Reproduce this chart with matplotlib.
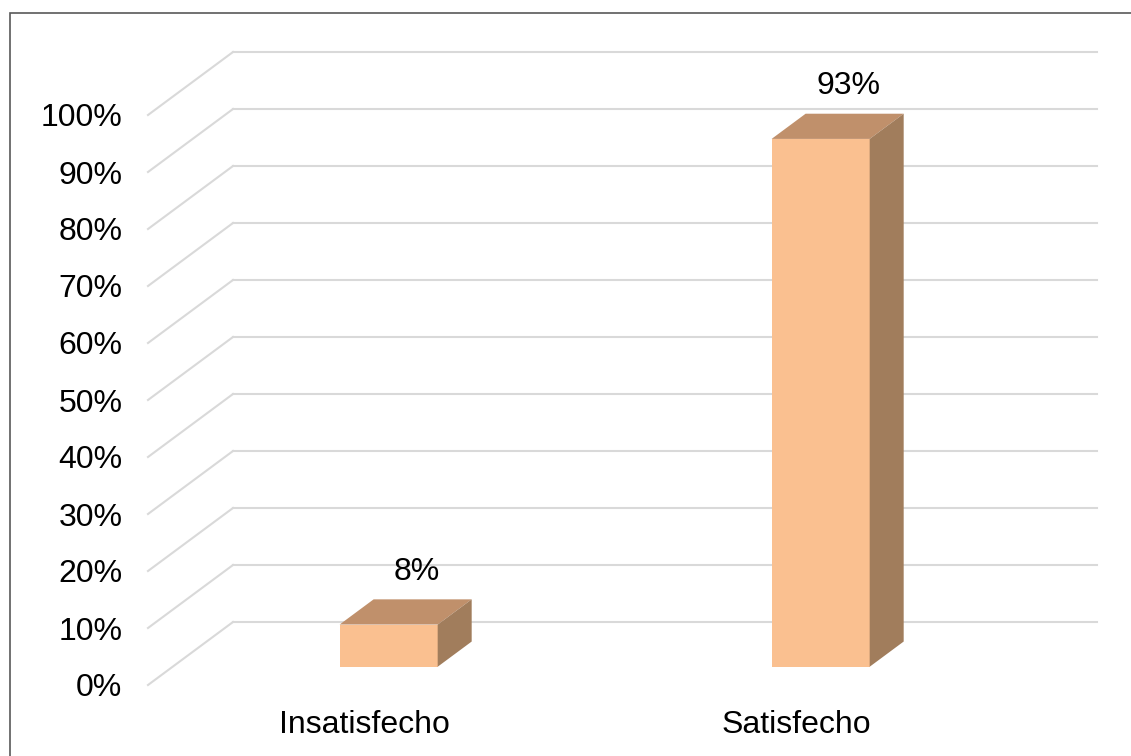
import matplotlib.pyplot as plt
from matplotlib.patches import Polygon, Rectangle
import numpy as np

# data
categories = ['Insatisfecho', 'Satisfecho']
values = [0.074, 0.926]
value_labels = ['8%', '93%']
yticks = np.arange(0, 1.01, 0.1)
ytick_labels = [f'{int(round(t * 100))}%' for t in yticks]

FRONT = '#FAC090'
TOP = '#C0906B'
SIDE = '#A17D5C'
GRID = '#D9D9D9'

plt.rcParams['font.family'] = ['Liberation Sans', 'DejaVu Sans']

W, H = 1131, 756
fig = plt.figure(figsize=(W / 100, H / 100), dpi=100)

# axes: front plane from x=148px to 1100px, y from 685px (0%) up to 40px
ax = fig.add_axes([148 / W, 1 - 685 / H, (1100 - 148) / W, (685 - 40) / H])
ax.set_xlim(-0.5, -0.5 + (1100 - 148) / 432)
ax.set_ylim(0, 645 / 570)

# oblique depth vector (data units) for the full floor depth
DX, DY = 85 / 432, 63 / 570
d0, d1 = 0.29, 0.69     # bar occupies this slice of the depth
bw = 0.227
n = len(categories)

# gridlines: diagonal on side wall + horizontal on back wall
for t in yticks:
    ax.plot([-0.5, -0.5 + DX], [t, t + DY], color=GRID, lw=1.5, zorder=1, clip_on=False)
    ax.plot([-0.5 + DX, n - 0.5 + DX], [t + DY, t + DY], color=GRID, lw=1.5, zorder=1, clip_on=False)

x = np.arange(n)
base = d0 * DY
xs = x + d0 * DX
ax.bar(xs, values, width=bw, bottom=base, color=FRONT, zorder=3)
dd = d1 - d0
for xi, v, lab in zip(xs, values, value_labels):
    xl, xr = xi - bw / 2, xi + bw / 2
    top = base + v
    ax.add_patch(Polygon([(xl, top), (xr, top), (xr + dd * DX, top + dd * DY),
                          (xl + dd * DX, top + dd * DY)], closed=True,
                         facecolor=TOP, edgecolor='none', zorder=3))
    ax.add_patch(Polygon([(xr, base), (xr, top), (xr + dd * DX, top + dd * DY),
                          (xr + dd * DX, base + dd * DY)], closed=True,
                         facecolor=SIDE, edgecolor='none', zorder=3))
    ax.annotate(lab, (xi + dd * DX - 0.014, top + dd * DY), xytext=(0, 20),
                textcoords='offset points', ha='center', va='center',
                fontsize=23, color='black', annotation_clip=False)

ax.set_yticks(yticks)
ax.set_yticklabels(ytick_labels, fontsize=23)
ax.set_xticks(x)
ax.set_xticklabels(categories, fontsize=23)
ax.tick_params(axis='y', length=0, pad=18.5)
ax.tick_params(axis='x', length=0, pad=18)
for s in ax.spines.values():
    s.set_visible(False)
ax.patch.set_visible(False)

# outer chart frame
fig.patches.append(Rectangle((10 / W, -0.1), 1.2, 1 - 13 / H + 0.1,
                             transform=fig.transFigure, fill=False,
                             edgecolor='#595959', lw=1.2))

fig.savefig('out.png', dpi=100)
